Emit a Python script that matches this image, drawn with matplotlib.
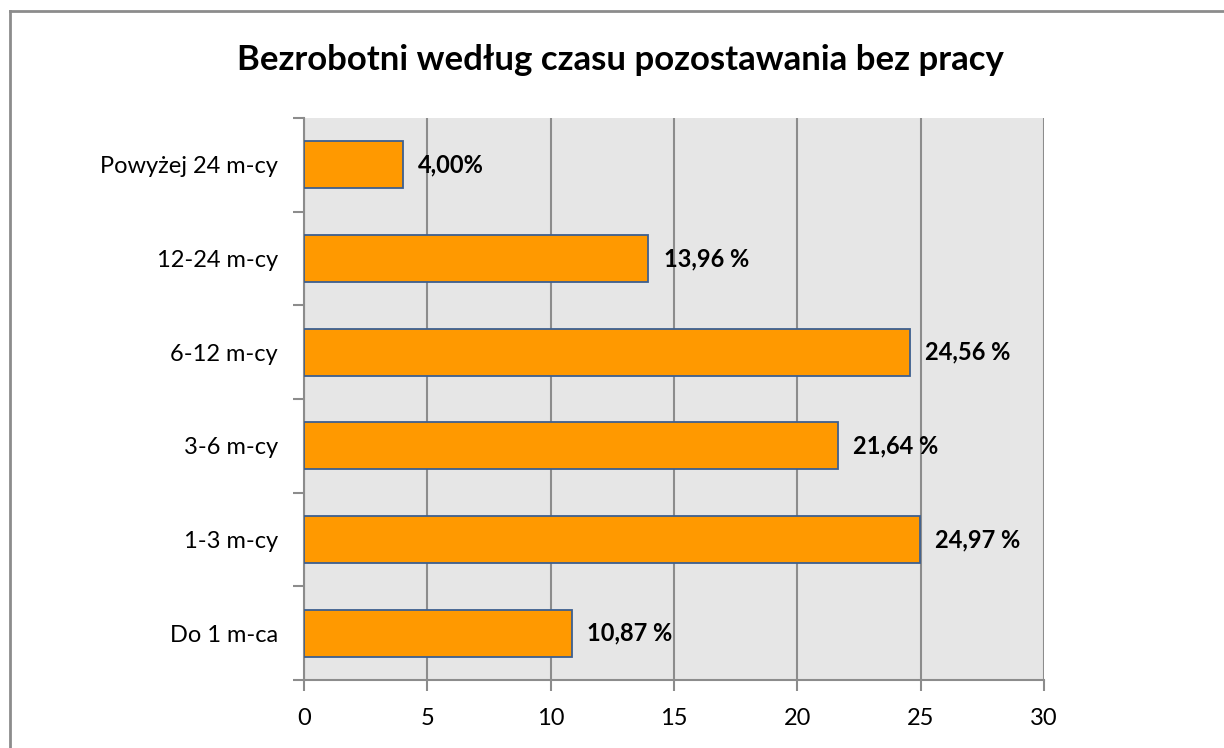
import numpy as np
import matplotlib.pyplot as plt
from matplotlib.lines import Line2D

plt.rcParams['font.family'] = ['Lato', 'DejaVu Sans']

# data
categories = ["Do 1 m-ca", "1-3 m-cy", "3-6 m-cy", "6-12 m-cy",
              "12-24 m-cy", "Powyżej 24 m-cy"]
values = [10.87, 24.97, 21.64, 24.56, 13.96, 4.00]
labels = ["10,87 %", "24,97 %", "21,64 %", "24,56 %", "13,96 %", "4,00%"]
xticks = [0, 5, 10, 15, 20, 25, 30]

fig = plt.figure(figsize=(12.24, 7.48), dpi=100)
ax = fig.add_axes([0.2484, 0.0909, 0.6046, 0.7513])
ax.set_facecolor('#e6e6e6')

y = np.arange(len(categories))
ax.barh(y, values, height=0.5, color='#ff9900', edgecolor='#3d5f8f',
        linewidth=1.3, zorder=3)
for yi, v, lab in zip(y, values, labels):
    ax.text(v + 0.62, yi, lab, va='center', ha='left', fontsize=17,
            fontweight='bold', color='black', zorder=4)

ax.set_xlim(0, 30)
ax.set_ylim(-0.5, len(categories) - 0.5)
ax.set_xticks(xticks)
ax.set_xticklabels([str(t) for t in xticks], fontsize=17)
ax.xaxis.grid(True, color='#8c8c8c', linewidth=1.5, zorder=1)
ax.set_axisbelow(True)

ax.set_yticks(y)
ax.set_yticklabels(categories, fontsize=17)
ax.set_yticks(np.arange(-0.5, len(categories)), minor=True)
ax.tick_params(axis='y', which='major', length=0, pad=19)
ax.tick_params(axis='y', which='minor', length=8, width=1.5,
               color='#8c8c8c', direction='out')
ax.tick_params(axis='x', length=8, width=1.5, color='#8c8c8c',
               direction='out', pad=12)

for s in ['top', 'right']:
    ax.spines[s].set_visible(False)
for s in ['left', 'bottom']:
    ax.spines[s].set_color('#8c8c8c')
    ax.spines[s].set_linewidth(1.5)

fig.text(0.507, 0.92, "Bezrobotni według czasu pozostawania bez pracy",
         ha='center', va='center', fontsize=25, fontweight='bold')

# outer chart border
fig.add_artist(Line2D([10 / 1224, 1], [1 - 11 / 748, 1 - 11 / 748],
                      transform=fig.transFigure, color='#8c8c8c', lw=2))
fig.add_artist(Line2D([10 / 1224, 10 / 1224], [0, 1 - 11 / 748],
                      transform=fig.transFigure, color='#8c8c8c', lw=2))

fig.savefig("out.png", dpi=100)
